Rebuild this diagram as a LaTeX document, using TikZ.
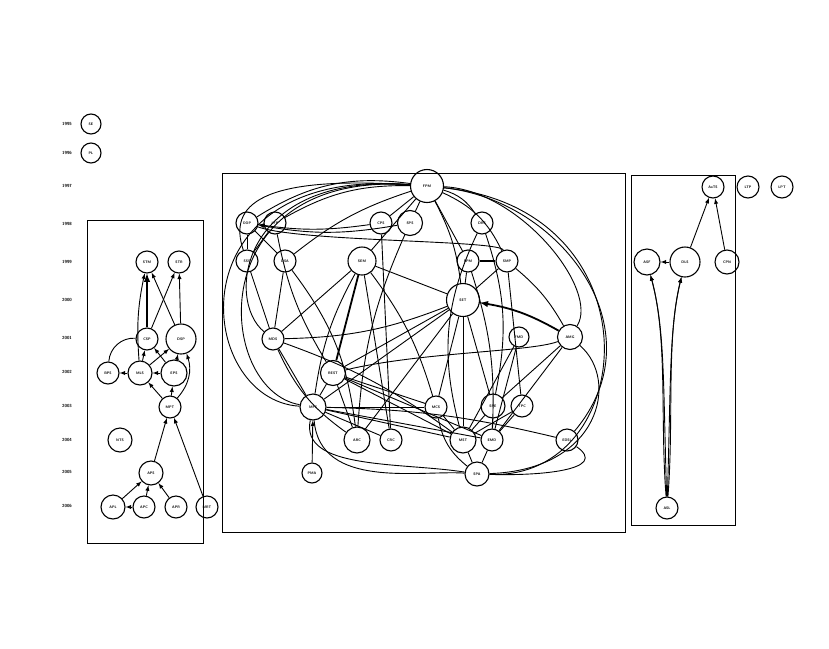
\documentclass[tikz,border=0pt]{standalone}
\usepackage{tikz}
\usetikzlibrary{arrows}
\usetikzlibrary{positioning}

\tikzset{
  gnode/.style={draw, circle, inner sep=0pt, minimum size=22pt, line width=1.1pt,
    font=\fontsize{3.6}{3.6}\selectfont\sffamily\bfseries},
  bignode/.style={gnode, minimum size=30pt},
  midnode/.style={gnode, minimum size=26pt},
  yearlab/.style={font=\fontsize{4.4}{4.4}\selectfont\sffamily\bfseries},
  clusterbox/.style={draw, line width=0.8pt},
  fat/.style={line width=1.8pt},
}

\begin{document}
\begin{tikzpicture}[x=1pt, y=-1pt, on grid, >=latex, line width=0.9pt]
  \useasboundingbox (0,0) rectangle (829,648);

  % years
  \node[yearlab] (y1995) at (67,124) {1995};
  \node[yearlab] (y1996) at (67,153) {1996};
  \node[yearlab] (y1997) at (67,186) {1997};
  \node[yearlab] (y1998) at (67,224) {1998};
  \node[yearlab] (y1999) at (67,262) {1999};
  \node[yearlab] (y2000) at (67,300) {2000};
  \node[yearlab] (y2001) at (67,338) {2001};
  \node[yearlab] (y2002) at (67,372) {2002};
  \node[yearlab] (y2003) at (67,406) {2003};
  \node[yearlab] (y2004) at (67,440) {2004};
  \node[yearlab] (y2005) at (67,472) {2005};
  \node[yearlab] (y2006) at (67,506) {2006};

  % clusters
  \draw[clusterbox] (87,220) rectangle (203,543);
  \draw[clusterbox] (222,173) rectangle (625,532);
  \draw[clusterbox] (631,175) rectangle (735,525);

  % single nodes
  \node[gnode, minimum size=20pt] (se) at (91,124) {SE};
  \node[gnode, minimum size=20pt] (pl) at (91,153) {PL};

  % left cluster
  \node[gnode]            (stm)  at (147,262) {STM};
  \node[gnode]            (str)  [right=32pt of stm] {STR};
  \node[gnode]            (csp)  at (147,339) {CSP};
  \node[bignode]          (dsp)  [right=34pt of csp] {DSP};
  \node[gnode]            (bps)  at (108,373) {BPS};
  \node[gnode, minimum size=24pt] (mls) [right=32pt of bps] {MLS};
  \node[midnode]          (eps)  [right=34pt of mls] {EPS};
  \node[gnode]            (mpt)  at (170,407) {MPT};
  \node[gnode, minimum size=24pt] (nts) at (120,440) {NTS};
  \node[gnode, minimum size=24pt] (aps) at (151,473) {APS};
  \node[gnode, minimum size=24pt] (apl) at (113,507) {APL};
  \node[gnode]            (apc)  [right=31pt of apl] {APC};
  \node[gnode]            (apr)  [right=32pt of apc] {APR};
  \node[gnode]            (mrt)  [right=31pt of apr] {MRT};

  \path[->]
    (csp) edge[fat] (stm)
    (mls) edge[bend left=8] (stm)
    (dsp) edge (stm)
    (csp) edge (str)
    (dsp) edge (str)
    (bps) edge[-, bend left=45] (csp)
    (mls) edge (bps)
    (eps) edge (mls)
    (mls) edge (csp)
    (eps) edge (csp)
    (mls) edge (dsp)
    (eps) edge (dsp)
    (mpt) edge (eps)
    (mpt) edge (mls)
    (mpt) edge[bend right=30] (dsp)
    (aps) edge (mpt)
    (mrt) edge (mpt)
    (apl) edge (aps)
    (apc) edge (aps)
    (apr) edge (aps)
    (apc) edge (apl);

  % middle cluster
  \node[gnode, minimum size=33pt] (fpm) at (427,186) {FPM};
  \node[gnode]            (oop)  at (247,223) {OOP};
  \node[gnode]            (lfp)  [right=28pt of oop] {LFP};
  \node[gnode]            (cps)  at (381,223) {CPS};
  \node[gnode, minimum size=25pt] (sps) [right=29pt of cps] {SPS};
  \node[gnode]            (drs)  at (482,223) {DRS};
  \node[gnode]            (sss)  at (247,261) {SSS};
  \node[gnode]            (dsa)  [right=38pt of sss] {DSA};
  \node[gnode, minimum size=28pt] (sem) at (362,261) {SEM};
  \node[gnode]            (spm)  at (468,261) {SPM};
  \node[gnode]            (smp)  [right=39pt of spm] {SMP};
  \node[gnode, minimum size=33pt] (set) at (463,300) {SET};
  \node[gnode]            (mds)  at (273,339) {MDS};
  \node[gnode, minimum size=20pt] (fmd) at (519,337) {FMD};
  \node[gnode, minimum size=25pt] (amg) [right=51pt of fmd] {AMG};
  \node[gnode, minimum size=25pt] (rest) at (333,373) {REST};
  \node[midnode]          (mfs)  at (313,407) {MFS};
  \node[gnode]            (mcs)  at (436,407) {MCS};
  \node[gnode, minimum size=24pt] (spe) at (493,406) {SPE};
  \node[gnode]            (tpc)  [right=29pt of spe] {TPC};
  \node[midnode]          (arc)  at (357,440) {ARC};
  \node[gnode]            (crc)  [right=34pt of arc] {CRC};
  \node[midnode]          (mst)  at (463,440) {MST};
  \node[gnode]            (emd)  [right=29pt of mst] {EMD};
  \node[gnode]            (edsl) at (567,440) {EDSL};
  \node[gnode, minimum size=20pt] (pma) at (312,473) {PMA};
  \node[gnode, minimum size=24pt] (spa) at (477,474) {SPA};

  % long loops round the cluster
  \draw (fpm) .. controls (170,165) and (195,400) .. (mfs);
  \draw (fpm) .. controls (200,170) and (215,390) .. (mfs);
  \draw (fpm) .. controls (240,172) and (225,300) .. (mds);
  \draw (fpm) .. controls (260,175) and (228,205) .. (sss);
  \draw (fpm) .. controls (560,200) and (660,330) .. (edsl);
  \draw (fpm) .. controls (520,190) and (600,290) .. (amg);
  \draw (fpm) .. controls (660,210) and (640,480) .. (spa);
  \draw (oop) .. controls (300,242) and (500,240) .. (smp);
  \draw (rest) .. controls (420,352) and (530,352) .. (amg);
  \draw (mfs) .. controls (300,470) and (400,462) .. (spa);
  \draw (mfs) .. controls (320,490) and (420,470) .. (spa);
  \draw (edsl) .. controls (610,470) and (540,476) .. (spa);
  \draw (amg) .. controls (620,380) and (600,470) .. (spa);

  \path[-]
    (fpm) edge[bend right=20] (oop)
          edge[bend right=15] (lfp)
          edge (cps)
          edge (sps)
          edge (sem)
          edge[bend left=10] (set)
          edge[bend left=20] (drs)
          edge (spm)
          edge[bend left=20] (smp)
          edge[bend right=10] (dsa)
    (cps) edge[->, bend left=8] (oop)
    (sps) edge[->, bend left=10] (oop)
    (oop) edge (sss)
          edge (dsa)
    (lfp) edge (sss)
          edge[bend right=10] (rest)
    (sss) edge (mds)
    (dsa) edge (mds)
          edge[bend left=15] (arc)
    (sem) edge[fat] (rest)
          edge (set)
          edge (crc)
          edge[bend left=10] (mcs)
          edge (mds)
          edge[bend right=10] (mfs)
    (spm) edge[fat] (smp)
          edge (set)
          edge[bend left=10] (emd)
    (smp) edge (set)
          edge (tpc)
          edge[bend left=10] (amg)
    (amg) edge[->, fat, bend right=10] (set)
          edge (emd)
          edge (spe)
    (set) edge (rest)
          edge[bend left=10] (mds)
          edge (mfs)
          edge (spe)
          edge (mcs)
          edge (mst)
          edge (arc)
    (mds) edge (mfs)
          edge[bend right=15] (arc)
          edge[bend left=8] (mst)
    (rest) edge (mfs)
           edge (arc)
           edge (mst)
           edge (emd)
           edge (mcs)
    (mfs) edge (crc)
          edge (mst)
          edge (emd)
          edge[bend left=6] (edsl)
          edge (mcs)
    (pma) edge[->] (mfs)
    (mcs) edge (mst)
          edge[bend right=20] (spa)
    (spe) edge (mst)
          edge (emd)
    (tpc) edge (mst)
          edge (emd)
    (fmd) edge (emd)
          edge (mst)
    (mst) edge (spa)
    (emd) edge (spa)
    (sps) edge[bend right=10] (arc)
    (cps) edge (crc)
    (drs) edge[bend left=15] (spe)
          edge[bend right=20] (mst);

  % right cluster
  \node[gnode]            (aots) at (713,187) {AoTS};
  \node[gnode]            (ltp)  [right=35pt of aots] {LTP};
  \node[gnode]            (lpt)  [right=34pt of ltp] {LPT};
  \node[midnode]          (asf)  at (647,262) {ASF};
  \node[bignode]          (dls)  [right=38pt of asf] {DLS};
  \node[gnode, minimum size=24pt] (cpn) [right=42pt of dls] {CPN};
  \node[gnode]            (asl)  at (667,508) {ASL};

  \path[->]
    (dls) edge (aots)
    (cpn) edge (aots)
    (dls) edge (asf);
  \draw[->] (asl) .. controls (663,380) and (665,330) .. (asf);
  \draw[->] (asl) .. controls (660,420) and (668,340) .. (asf);
  \draw[->] (asl) .. controls (671,380) and (669,330) .. (dls);
  \draw[->] (asl) .. controls (674,420) and (666,340) .. (dls);
\end{tikzpicture}
\end{document}
